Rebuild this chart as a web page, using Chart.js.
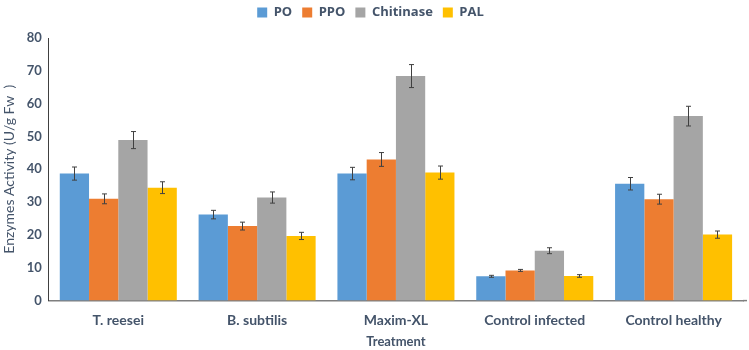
<!DOCTYPE html>
<html>
<head>
<meta charset="utf-8">
<script src="https://cdn.jsdelivr.net/npm/chart.js@4.4.1/dist/chart.umd.min.js"></script>
<style>
  html, body { margin: 0; padding: 0; background: #fff; overflow: hidden; }
</style>
</head>
<body>
<canvas id="myChart" width="749" height="350"></canvas>
<script>
const treatments = ['T. reesei', 'B. subtilis', 'Maxim-XL', 'Control infected', 'Control healthy'];

const po = [38.7, 26.2, 38.7, 7.4, 35.6];
const ppo = [31.0, 22.7, 43.0, 9.2, 30.9];
const chitinase = [48.9, 31.4, 68.4, 15.2, 56.2];
const pal = [34.4, 19.7, 39.0, 7.5, 20.1];

const poErr = [2.0, 1.3, 1.9, 0.3, 1.9];
const ppoErr = [1.5, 1.2, 2.1, 0.3, 1.5];
const chitinaseErr = [2.6, 1.7, 3.5, 0.9, 3.0];
const palErr = [1.8, 1.1, 2.0, 0.4, 1.1];

const yTicks = [0, 10, 20, 30, 40, 50, 60, 70, 80];

const tickColor = '#44546A';

// draws the +/- error whiskers on top of each bar
const errorBars = {
    id: 'errorBars',
    afterDatasetsDraw(chart) {
        const ctx = chart.ctx;
        const yScale = chart.scales.y;
        ctx.save();
        ctx.strokeStyle = '#404040';
        ctx.lineWidth = 1;
        chart.data.datasets.forEach((ds, i) => {
            const meta = chart.getDatasetMeta(i);
            meta.data.forEach((bar, j) => {
                const v = ds.data[j];
                const e = ds.errors[j];
                const x = Math.round(bar.x) + 0.5;
                const yTop = yScale.getPixelForValue(v + e);
                const yBot = yScale.getPixelForValue(v - e);
                ctx.beginPath();
                ctx.moveTo(x, yTop);
                ctx.lineTo(x, yBot);
                ctx.moveTo(x - 2.5, yTop);
                ctx.lineTo(x + 2.5, yTop);
                ctx.moveTo(x - 2.5, yBot);
                ctx.lineTo(x + 2.5, yBot);
                ctx.stroke();
            });
        });
        ctx.restore();
    }
};

// move the legend up a bit, and let the x axis line run on to the edge
const tweaks = {
    id: 'tweaks',
    afterLayout(chart) {
        chart.legend.left -= 1;
        chart.legend.right -= 1;
        chart.legend.top -= 9;
        chart.legend.bottom -= 9;
    },
    afterDraw(chart) {
        const ctx = chart.ctx;
        const y = chart.scales.y.getPixelForValue(0);
        ctx.save();
        ctx.strokeStyle = '#7F7F7F';
        ctx.lineWidth = 1.5;
        ctx.beginPath();
        ctx.moveTo(chart.chartArea.right, y);
        ctx.lineTo(chart.width - 2, y);
        ctx.stroke();
        ctx.restore();
    }
};

const ctx = document.getElementById('myChart').getContext('2d');
const myChart = new Chart(ctx, {
    type: 'bar',
    data: {
        labels: treatments,
        datasets: [
            { label: 'PO', data: po, errors: poErr, backgroundColor: '#5B9BD5' },
            { label: 'PPO', data: ppo, errors: ppoErr, backgroundColor: '#ED7D31' },
            { label: 'Chitinase', data: chitinase, errors: chitinaseErr, backgroundColor: '#A5A5A5' },
            { label: 'PAL', data: pal, errors: palErr, backgroundColor: '#FFC000' }
        ]
    },
    options: {
        responsive: false,
        animation: false,
        categoryPercentage: 0.843,
        barPercentage: 1.0,
        layout: {
            padding: { left: 0, right: 6, top: 5, bottom: 0 }
        },
        plugins: {
            legend: {
                position: 'top',
                labels: {
                    boxWidth: 10,
                    boxHeight: 10,
                    padding: 10,
                    color: '#44546A',
                    font: { family: 'Open Sans', size: 13, weight: 'bold' }
                }
            },
            tooltip: { enabled: false }
        },
        scales: {
            x: {
                grid: { display: false, drawTicks: false },
                border: { display: true, color: '#7F7F7F', width: 1.5 },
                ticks: {
                    color: tickColor,
                    padding: 11,
                    font: { family: 'Lato', size: 14, weight: 'bold' }
                },
                title: {
                    display: true,
                    text: 'Treatment',
                    color: tickColor,
                    padding: { top: -5, bottom: 0 },
                    font: { family: 'Lato', size: 13, weight: 'bold' }
                }
            },
            y: {
                min: 0,
                max: 80,
                afterBuildTicks(scale) {
                    scale.ticks = yTicks.map(v => ({ value: v }));
                },
                grid: { display: false, drawTicks: false },
                border: { display: true, color: '#404040', width: 1 },
                ticks: {
                    color: tickColor,
                    padding: 7,
                    font: { family: 'Lato', size: 13, weight: 'bold' }
                },
                title: {
                    display: true,
                    text: 'Enzymes Activity (U/g Fw  )',
                    color: tickColor,
                    padding: { top: 1, bottom: 2 },
                    font: { family: 'Lato', size: 14 }
                }
            }
        }
    },
    plugins: [errorBars, tweaks]
});
</script>
</body>
</html>
